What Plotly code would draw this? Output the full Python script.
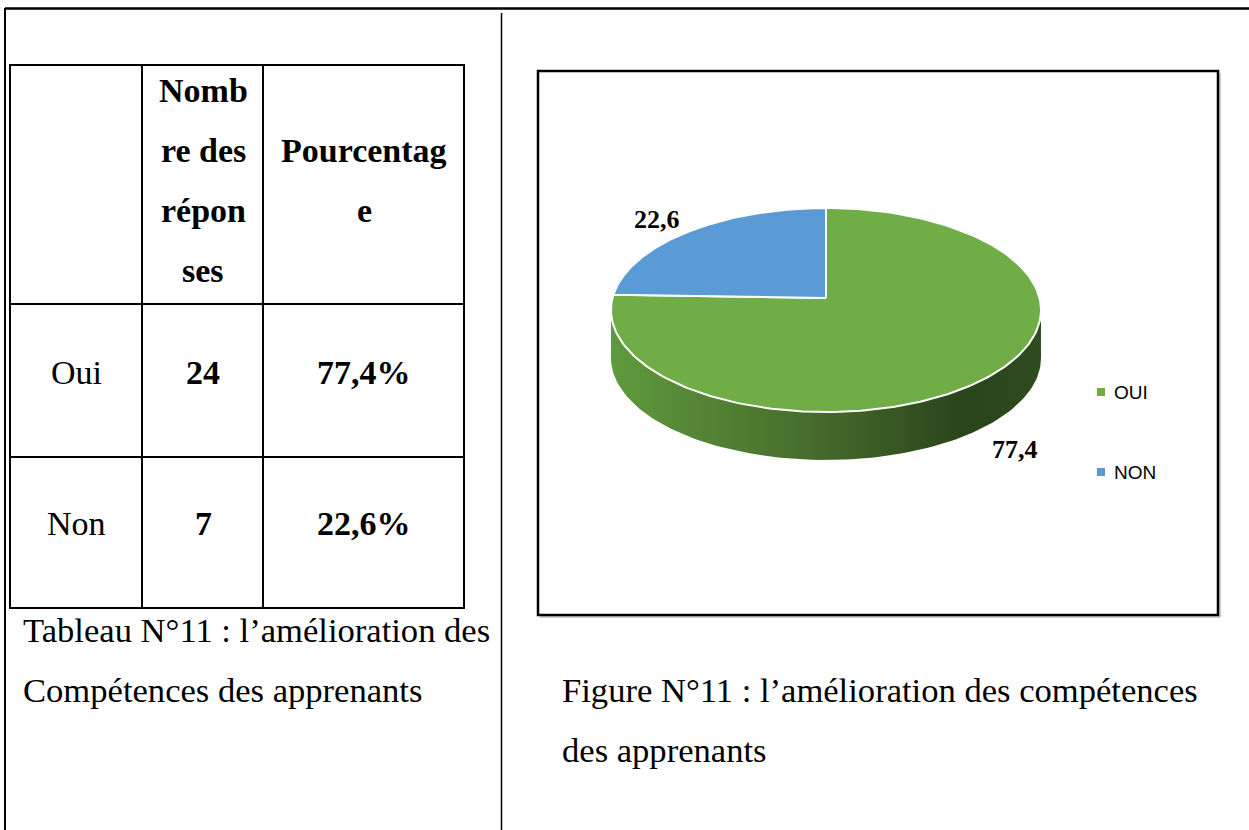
import numpy as np
import plotly.graph_objects as go

# data
categories = ["Oui", "Non"]
legend_labels = ["OUI", "NON"]
counts = [24, 7]
percentages = [77.4, 22.6]
slice_colors = ["#70ad47", "#5b9bd5"]
side_shades = [
    [[0, "#5f9a3d"], [0.5, "#44692a"], [0.82, "#2a441b"], [1, "#2f4b1f"]],
    [[0, "#4f86bb"], [0.5, "#3b6690"], [0.82, "#2a4a6a"], [1, "#2e5070"]],
]

header_count = ["Nomb", "re des", "répon", "ses"]
header_pct = ["Pourcentag", "e"]
table_caption = ["Tableau N°11 : l’amélioration des", "Compétences des apprenants"]
figure_caption = ["Figure N°11 : l’amélioration des compétences", "des apprenants"]

W, H = 1249, 830
serif = "Liberation Serif"
sans = "Liberation Sans"

fig = go.Figure()

# 3D-looking pie: ellipse top face + front wall
cx, cy, rx, ry, depth = 826, 310, 215, 102, 48
apex_y = cy - 12  # perspective: slices meet slightly above the ellipse centre


def ell(t, dy=0):
    r = np.radians(t)
    return cx + rx * np.cos(r), cy - ry * np.sin(r) + dy


start = 90.0
spans = []
for pct in percentages:
    end = start - pct * 3.6
    spans.append((end, start))
    start = end

# front walls (only the part of each slice facing the viewer)
for (a, b), shade in zip(spans, side_shades):
    for lo, hi in [(-540, -360), (-180, 0), (180, 360)]:
        s, e = max(a, lo), min(b, hi)
        if e <= s:
            continue
        t = np.linspace(s, e, 120)
        xt, yt = ell(t)
        xb, yb = ell(t[::-1], depth)
        fig.add_trace(go.Scatter(
            x=np.concatenate([xt, xb, xt[:1]]),
            y=np.concatenate([yt, yb, yt[:1]]),
            mode="lines", fill="toself", line=dict(width=0),
            fillgradient=dict(type="horizontal", colorscale=shade),
            hoverinfo="skip", showlegend=False,
        ))

# top face slices
for (a, b), col, lab, pct in zip(spans, slice_colors, legend_labels, percentages):
    t = np.linspace(b, a, 200)
    xs, ys = ell(t)
    fig.add_trace(go.Scatter(
        x=np.concatenate([[cx], xs, [cx]]),
        y=np.concatenate([[apex_y], ys, [apex_y]]),
        mode="lines", fill="toself", fillcolor=col,
        line=dict(color="white", width=2),
        name=lab, text=f"{lab}: {pct}", hoverinfo="text", showlegend=False,
    ))

ann = []


def txt(x, y, s, size=34, bold=False, xanchor="center", family=serif):
    ann.append(dict(
        x=x, y=y, xref="x", yref="y", text=f"<b>{s}</b>" if bold else s,
        showarrow=False, xanchor=xanchor, yanchor="middle",
        font=dict(family=family, size=size, color="black"),
    ))


def fmt(v):
    return f"{v:.1f}".replace(".", ",")


# pie data labels
txt(657, 219, fmt(percentages[1]), size=26, bold=True)
txt(1015, 449, fmt(percentages[0]), size=26, bold=True)

# legend
shapes = []
for i, (lab, col) in enumerate(zip(legend_labels, slice_colors)):
    ly = 392 + i * 80
    shapes.append(dict(type="rect", xref="x", yref="y", x0=1097, x1=1105,
                       y0=ly - 4, y1=ly + 4, fillcolor=col, line=dict(width=0)))
    txt(1112, ly, lab, size=19, xanchor="left", family=sans)

# table text
col_x = [76, 203, 364]
for i, s in enumerate(header_count):
    txt(col_x[1], 90 + i * 60, s, bold=True)
for i, s in enumerate(header_pct):
    txt(col_x[2], 150 + i * 60, s, bold=True)
row_y = [372, 523]
for cat, n, pct, ry_ in zip(categories, counts, percentages, row_y):
    txt(col_x[0], ry_, cat)
    txt(col_x[1], ry_, str(n), bold=True)
    txt(col_x[2], ry_, fmt(pct) + "%", bold=True)

# captions
txt(21, 630, table_caption[0], size=34.6, xanchor="left")
txt(21, 690, table_caption[1], size=34.6, xanchor="left")
txt(560, 690, figure_caption[0], size=34.6, xanchor="left")
txt(560, 750, figure_caption[1], size=34.6, xanchor="left")


def line(x0, y0, x1, y1, w=2, color="black"):
    shapes.append(dict(type="line", xref="x", yref="y", x0=x0, y0=y0, x1=x1, y1=y1,
                       line=dict(color=color, width=w)))


# page frame
line(5, 8.5, W, 8.5, 2.5)
line(5, 8, 5, H, 2)
line(501.5, 13, 501.5, H, 1.5)

# table grid
shapes.append(dict(type="rect", xref="x", yref="y", x0=10, x1=464, y0=65, y1=608,
                   line=dict(color="black", width=2)))
line(142, 65, 142, 608)
line(263, 65, 263, 608)
line(10, 304, 464, 304)
line(10, 457, 464, 457)

# chart frame with faint shadow
line(540, 617, 1220, 617, 1.5, "#bdbdbd")
line(1220, 73, 1220, 617, 1.5, "#bdbdbd")
shapes.append(dict(type="rect", xref="x", yref="y", x0=538, x1=1218, y0=71, y1=615,
                   line=dict(color="black", width=2.5)))

fig.update_layout(
    width=W, height=H,
    margin=dict(l=0, r=0, t=0, b=0),
    paper_bgcolor="white", plot_bgcolor="white",
    xaxis=dict(range=[0, W], visible=False, fixedrange=True),
    yaxis=dict(range=[H, 0], visible=False, fixedrange=True),
    shapes=shapes, annotations=ann,
    showlegend=False,
)

fig.write_html("out.html", config={"displayModeBar": False},
               post_script="document.body.style.margin='0px';")
